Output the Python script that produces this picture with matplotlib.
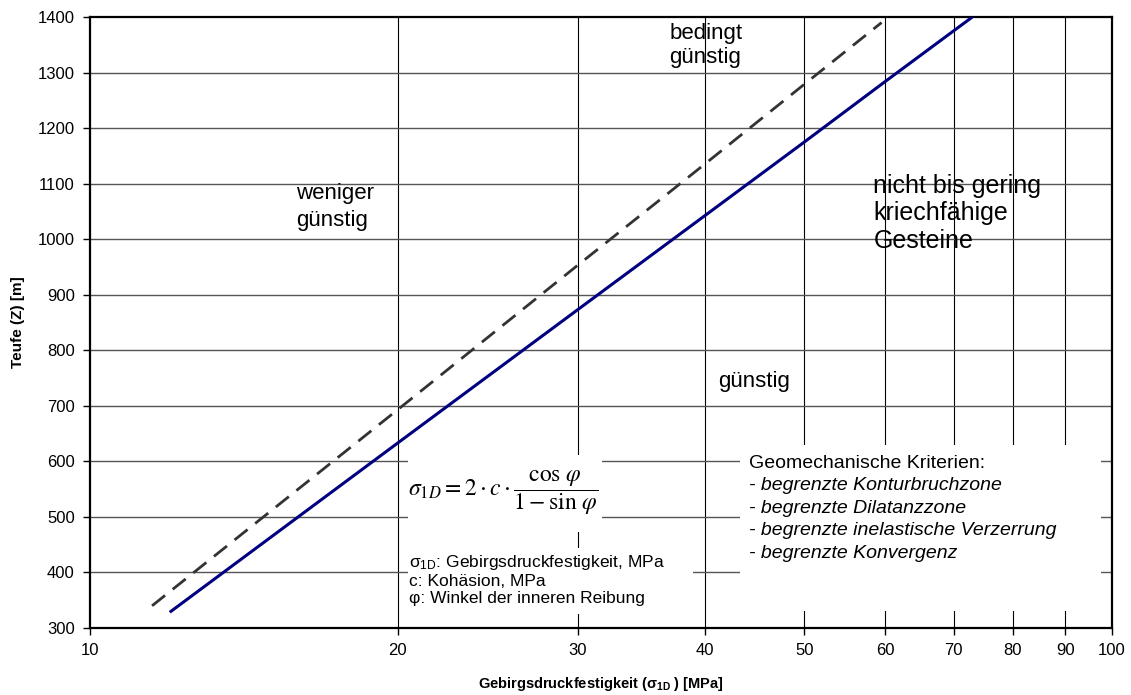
import matplotlib
matplotlib.use('Agg')
import matplotlib.pyplot as plt
from matplotlib.patches import Rectangle
from matplotlib.ticker import FixedLocator, FixedFormatter, NullLocator

plt.rcParams['font.family'] = ['Liberation Sans', 'DejaVu Sans']

# solid line (sigma_1D in MPa, depth in m)
solid_sigma = [12, 20, 30, 40, 50, 60, 73]
solid_depth = [330, 633, 873, 1043, 1175, 1284, 1400]
# dashed line
dashed_sigma = [11.5, 20, 30, 40, 50, 59.5]
dashed_depth = [340, 693, 953, 1136, 1279, 1390]

x_ticks = [10, 20, 30, 40, 50, 60, 70, 80, 90, 100]
y_ticks = list(range(300, 1401, 100))

fig = plt.figure(figsize=(11.31, 6.95), dpi=100)
ax = fig.add_axes([0.0796, 0.0964, 0.9036, 0.8791])

ax.set_xscale('log')
ax.set_xlim(10, 100)
ax.set_ylim(300, 1400)
ax.xaxis.set_major_locator(FixedLocator(x_ticks))
ax.xaxis.set_major_formatter(FixedFormatter([str(t) for t in x_ticks]))
ax.xaxis.set_minor_locator(NullLocator())
ax.set_yticks(y_ticks)

for t in x_ticks[1:-1]:
    ax.axvline(t, color='black', lw=0.8, zorder=1)
for t in y_ticks[1:-1]:
    ax.axhline(t, color='#555555', lw=1.0, zorder=1)

for sp in ax.spines.values():
    sp.set_linewidth(1.6)
    sp.set_color('black')
ax.tick_params(direction='out', length=5, width=1, labelsize=12, pad=6)

# white boxes covering the grid
for (x0, y0, w, h) in [(0.311, 0.157, 0.19, 0.126),
                       (0.311, 0.023, 0.279, 0.108),
                       (0.636, 0.028, 0.353, 0.272)]:
    ax.add_patch(Rectangle((x0, y0), w, h, transform=ax.transAxes,
                           facecolor='white', edgecolor='none', zorder=2))

ax.plot(dashed_sigma, dashed_depth, color='#333333', lw=2, dashes=(6, 3.5), zorder=3)
ax.plot(solid_sigma, solid_depth, color='#000080', lw=2.2, zorder=3)

ax.text(15.9, 1101, 'weniger\ngünstig', fontsize=16, va='top', ha='left', linespacing=1.35)
ax.text(36.9, 1390, 'bedingt\ngünstig', fontsize=16, va='top', ha='left', linespacing=1.2)
ax.text(41.2, 743, 'günstig', fontsize=16, va='center', ha='left')
ax.text(58.4, 1118, 'nicht bis gering\nkriechfähige\nGesteine', fontsize=18,
        va='top', ha='left', linespacing=1.2)

ax.text(0.404, 0.222, r'$\sigma_{1D} = 2\cdot c\cdot\dfrac{\cos\,\varphi}{1-\sin\,\varphi}$',
        transform=ax.transAxes, fontsize=17, ha='center', va='center',
        math_fontfamily='stix', zorder=4)
ax.text(0.312, 0.123,
        'σ$\\mathregular{_{1D}}$: Gebirgsdruckfestigkeit, MPa\nc: Kohäsion, MPa\nφ: Winkel der inneren Reibung',
        transform=ax.transAxes, fontsize=12.5, ha='left', va='top', linespacing=1.18, zorder=4)

ax.text(0.645, 0.270, 'Geomechanische Kriterien:', transform=ax.transAxes,
        fontsize=14, ha='left', va='center', zorder=4)
crit = ['- begrenzte Konturbruchzone', '- begrenzte Dilatanzzone',
        '- begrenzte inelastische Verzerrung', '- begrenzte Konvergenz']
for i, s in enumerate(crit):
    ax.text(0.645, 0.270 - 0.037 * (i + 1), s, transform=ax.transAxes,
            fontsize=14, style='italic', ha='left', va='center', zorder=4)

ax.set_xlabel('Gebirgsdruckfestigkeit (σ$\\mathregular{_{1D}}$ ) [MPa]',
              fontsize=10.5, fontweight='bold', labelpad=12)
ax.set_ylabel('Teufe (Z) [m]', fontsize=11, fontweight='bold', labelpad=9)

fig.savefig('out.png', dpi=100)
